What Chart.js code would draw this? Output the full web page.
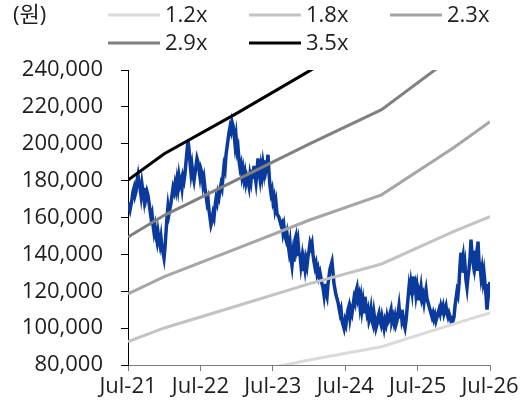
<!DOCTYPE html>
<html>
<head>
<meta charset="utf-8">
<script src="https://cdn.jsdelivr.net/npm/chart.js@4.4.1/dist/chart.umd.min.js"></script>
<style>
  html, body { margin: 0; padding: 0; background: #fff; }
  #wrap { width: 527px; height: 403px; }
</style>
</head>
<body>
<div id="wrap"><canvas id="c" width="527" height="403"></canvas></div>
<script>
// X-axis tick labels and the dates they sit on
const yearLabels = ['Jul-21', 'Jul-22', 'Jul-23', 'Jul-24', 'Jul-25', 'Jul-26'];
const yearDates  = ['2021-07-01', '2022-07-01', '2023-07-01', '2024-07-01', '2025-07-01', '2026-07-01'];

// Y-axis range (won)
const yMin = 80000, yMax = 240000, yStep = 20000;

// PBR band lines: values (won) at each band date
const bandLabels = ['1.2x', '1.8x', '2.3x', '2.9x', '3.5x'];
const bandDates  = ['2021-07-01', '2021-12-31', '2022-12-31', '2023-12-31', '2024-12-31', '2025-12-31', '2026-07-01'];
const band12 = [61800, 66700, 74600, 82700, 89900, 102300, 108200];
const band18 = [92700, 100100, 112000, 124000, 134800, 152500, 160500];
const band23 = [118500, 127900, 143100, 158500, 172300, 198000, 212000];
const band29 = [149400, 161200, 180400, 199800, 218500, 247700, 263000];
const band35 = [180300, 194600, 216500, 239400, 262200, 298900, 316100];
const bandColors = ['#dadada', '#c3c3c3', '#a6a6a6', '#808080', '#000000'];

// Share price (thousand won), evenly spaced from priceStart to priceEnd
const priceStart = '2021-07-01', priceEnd = '2026-07-01';
const price = [
  168,166,164,167,170,174,176,172,174,180,183,179,
  176,172,178,174,170,176,171,174,172,168,
  164,160,162,156,152,155,150,147,152,148,
  145,149,143,141,138,144,152,160,166,162,
  165,168,172,176,174,178,175,180,176,182,
  178,180,176,182,180,184,190,196,202,197,
  190,184,188,183,180,184,188,192,190,186,
  182,186,184,178,181,176,172,168,170,164,
  160,156,158,162,160,166,170,168,173,171,
  175,178,176,182,188,186,194,198,202,206,
  209,207,212,210,206,200,204,196,198,191,
  187,189,183,186,181,184,179,182,180,177,
  183,180,186,181,188,183,179,185,192,185,
  181,187,183,189,185,191,186,189,194,184,
  177,173,175,169,171,165,168,162,161,160,
  158,156,157,152,155,150,148,151,146,142,
  146,138,134,140,136,148,150,144,147,140,
  140,134,138,131,136,132,137,134,139,142,
  146,144,146,140,136,133,135,130,132,128,
  130,127,124,122,118,124,119,117,124,128,
  132,134,136,130,124,121,118,116,114,111,
  108,110,104,102,100,104,102,106,110,112,
  106,110,108,112,116,114,120,122,116,118,
  112,116,110,114,108,117,112,108,110,104,
  106,110,104,102,108,104,100,102,106,108,
  104,102,106,103,100,104,102,106,103,104,
  108,110,104,106,103,106,102,104,108,112,
  106,110,104,106,102,100,104,110,116,122,
  118,124,120,128,122,124,118,122,116,120,
  118,122,116,118,114,118,121,116,114,112,
  110,108,106,108,105,107,104,106,108,110,
  108,112,110,112,108,110,112,108,106,108,
  106,104,105,104,106,112,116,120,118,124,
  134,141,136,139,130,134,126,122,128,132,
  138,148,140,136,142,134,138,131,147,136,
  134,128,132,126,130,124,118,110,116,122,125
];

const FONT = '"Open Sans", "Noto Sans CJK KR", sans-serif';
const TEXT = '#1e1e1e';
const DAY = 86400000;
const origin = Date.parse(yearDates[0]);
const dayOf = s => (Date.parse(s) - origin) / DAY;

const p0 = dayOf(priceStart), p1 = dayOf(priceEnd);
const priceData = price.map((v, i) => ({ x: p0 + (p1 - p0) * i / (price.length - 1), y: v * 1000 }));

const bandSeries = [band12, band18, band23, band29, band35];
const bandSets = bandSeries.map((vals, k) => ({
  label: bandLabels[k],
  data: vals.map((v, i) => ({ x: dayOf(bandDates[i]), y: v })),
  borderColor: bandColors[k],
  borderWidth: 3,
  pointRadius: 0,
  tension: 0,
  fill: false,
  order: 1
}));

// Legend in a fixed 3-column grid, plus the unit label
const bandLegend = {
  id: 'bandLegend',
  afterDraw(chart) {
    const ctx = chart.ctx;
    ctx.save();
    ctx.font = '22px ' + FONT;
    ctx.textBaseline = 'middle';
    ctx.textAlign = 'left';
    ctx.fillStyle = TEXT;
    ctx.fillText('(원)', 13, 16);
    const cols = [108, 249, 390], rows = [15, 43];
    chart.data.datasets.filter(d => d.label).forEach((d, i) => {
      const x = cols[i % 3], y = rows[Math.floor(i / 3)];
      ctx.strokeStyle = d.borderColor;
      ctx.lineWidth = 3;
      ctx.beginPath();
      ctx.moveTo(x, y);
      ctx.lineTo(x + 52, y);
      ctx.stroke();
      ctx.fillStyle = TEXT;
      ctx.fillText(d.label, x + 57, y + 1);
    });
    ctx.restore();
  }
};

new Chart(document.getElementById('c'), {
  type: 'line',
  data: {
    datasets: [
      {
        data: priceData,
        borderColor: '#0a3a9c',
        borderWidth: 3.5,
        pointRadius: 0,
        tension: 0,
        fill: false,
        order: 5
      },
      ...bandSets
    ]
  },
  options: {
    responsive: false,
    animation: false,
    devicePixelRatio: 1,
    layout: { padding: { top: 70, right: 37, bottom: 0, left: 0 } },
    plugins: { legend: { display: false }, tooltip: { enabled: false } },
    scales: {
      x: {
        type: 'linear',
        min: 0,
        max: dayOf(yearDates[yearDates.length - 1]),
        afterBuildTicks: s => { s.ticks = yearDates.map(d => ({ value: dayOf(d) })); },
        afterFit: s => { s.height = 38; },
        ticks: {
          autoSkip: false,
          maxRotation: 0,
          padding: 3,
          color: TEXT,
          font: { family: FONT, size: 22 },
          callback: (v, i) => yearLabels[i]
        },
        grid: { drawOnChartArea: false, drawTicks: true, tickLength: 6, color: '#7a7a7a', lineWidth: 1 },
        border: { display: true, color: '#7a7a7a', width: 1 }
      },
      y: {
        min: yMin,
        max: yMax,
        afterFit: s => { s.width = 128; },
        ticks: {
          stepSize: yStep,
          padding: 18,
          color: TEXT,
          font: { family: FONT, size: 22 },
          callback: v => v.toLocaleString('en-US')
        },
        grid: { drawOnChartArea: false, drawTicks: true, tickLength: 7, color: '#000', lineWidth: 1 },
        border: { display: true, color: '#000', width: 1 }
      }
    }
  },
  plugins: [bandLegend]
});
</script>
</body>
</html>
